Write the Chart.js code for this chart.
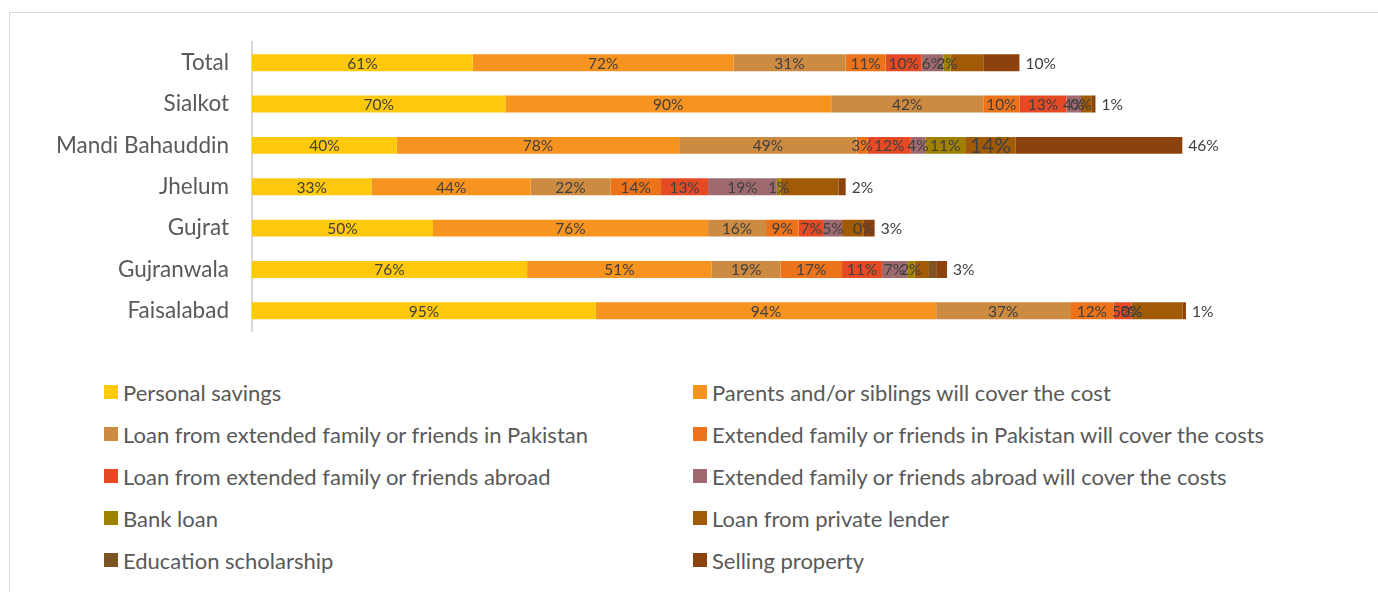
<!DOCTYPE html>
<html>
<head>
<meta charset="utf-8">
<script src="https://cdn.jsdelivr.net/npm/chart.js@4.4.1/dist/chart.umd.min.js"></script>
<style>
  html, body { margin: 0; padding: 0; background: #fff; }
  body { width: 1378px; height: 592px; position: relative; overflow: hidden; font-family: Lato, "Open Sans", sans-serif; }
  #frame { position: absolute; left: 9px; top: 12px; width: 1400px; height: 620px; border: 1.5px solid #D9D9D9; box-sizing: border-box; }
  #wrap { position: absolute; left: 0; top: 0; width: 1378px; height: 368px; }
  #legend { position: absolute; left: 0; top: 371px; width: 1378px; }
  .item { position: absolute; height: 42px; display: flex; align-items: center; font-size: 22px; color: #595959; white-space: nowrap; }
  .item i { display: inline-block; width: 14px; height: 14px; margin-right: 5px; }
</style>
</head>
<body>
<div id="frame"></div>
<div id="wrap"><canvas id="chart"></canvas></div>
<div id="legend"></div>
<script>
// Categories, top to bottom
const regions = ["Total", "Sialkot", "Mandi Bahauddin", "Jhelum", "Gujrat", "Gujranwala", "Faisalabad"];

// Series values (%), one entry per region
const personalSavings = [61, 70, 40, 33, 50, 76, 95];
const parentsSiblings = [72, 90, 78, 44, 76, 51, 94];
const loanFamilyPk = [31, 42, 49, 22, 16, 19, 37];
const familyPkCover = [11, 10, 3, 14, 9, 17, 12];
const loanFamilyAbroad = [10, 13, 12, 13, 7, 11, 5];
const familyAbroadCover = [6, 4, 4, 19, 5, 7, 0];
const bankLoan = [2, 0, 11, 1, 0, 2, 0];
const privateLender = [9, 3, 14, 16, 6, 4, 14];
const scholarship = [0, 0, 0, 0, 0, 2, 0];
const sellingProperty = [10, 1, 46, 2, 3, 3, 1];

// which data labels are visible (1 = shown, 2 = shown large, 0 = hidden)
const labelShow = [
  [1, 1, 1, 1, 1, 1, 1],
  [1, 1, 1, 1, 1, 1, 1],
  [1, 1, 1, 1, 1, 1, 1],
  [1, 1, 1, 1, 1, 1, 1],
  [1, 1, 1, 1, 1, 1, 1],
  [1, 1, 1, 1, 1, 1, 1],
  [1, 1, 1, 1, 0, 1, 1],
  [0, 0, 2, 0, 0, 0, 0],
  [0, 0, 0, 0, 1, 0, 0],
  [1, 1, 1, 1, 1, 1, 1]
];

const series = [
  { label: "Personal savings", data: personalSavings, color: "#FFC90B" },
  { label: "Parents and/or siblings will cover the cost", data: parentsSiblings, color: "#F7931F" },
  { label: "Loan from extended family or friends in Pakistan", data: loanFamilyPk, color: "#CD8B42" },
  { label: "Extended family or friends in Pakistan will cover the costs", data: familyPkCover, color: "#EC7319" },
  { label: "Loan from extended family or friends abroad", data: loanFamilyAbroad, color: "#E64A25" },
  { label: "Extended family or friends abroad will cover the costs", data: familyAbroadCover, color: "#9E6A6D" },
  { label: "Bank loan", data: bankLoan, color: "#9F8100" },
  { label: "Loan from private lender", data: privateLender, color: "#A15A05" },
  { label: "Education scholarship", data: scholarship, color: "#7D5426" },
  { label: "Selling property", data: sellingProperty, color: "#8C420C" }
];

// Data labels: centred in each segment, last series outside the bar end
const barLabels = {
  id: "barLabels",
  afterDatasetsDraw(chart) {
    const ctx = chart.ctx;
    const last = chart.data.datasets.length - 1;
    ctx.save();
    ctx.fillStyle = "#404040";
    ctx.textBaseline = "middle";
    chart.data.datasets.forEach((ds, i) => {
      const meta = chart.getDatasetMeta(i);
      meta.data.forEach((bar, j) => {
        const show = labelShow[i][j];
        if (!show) return;
        const text = Math.round(ds.data[j]) + "%";
        ctx.font = (show === 2 ? 21 : 15.5) + "px Lato, 'Open Sans', sans-serif";
        if (i === last) {
          ctx.textAlign = "left";
          ctx.fillText(text, bar.x + 6, bar.y + 1);
        } else {
          ctx.textAlign = "center";
          ctx.fillText(text, (bar.x + bar.base) / 2, bar.y + 1);
        }
      });
    });
    ctx.restore();
  }
};

const chart = new Chart(document.getElementById("chart"), {
  type: "bar",
  data: {
    labels: regions,
    datasets: series.map((s) => ({
      label: s.label,
      data: s.data,
      backgroundColor: s.color,
      borderWidth: 0,
      categoryPercentage: 1,
      barPercentage: 0.41
    }))
  },
  options: {
    indexAxis: "y",
    responsive: true,
    maintainAspectRatio: false,
    animation: false,
    layout: { padding: { top: 42, bottom: 12, right: 40, left: 0 } },
    scales: {
      x: { stacked: true, min: 0, max: 300, display: false },
      y: {
        stacked: true,
        grid: { display: false, drawTicks: false },
        border: { display: true, color: "#D9D9D9", width: 2 },
        ticks: { color: "#595959", font: { family: "Lato", size: 22.5 }, padding: 23 },
        afterFit: (scale) => { scale.width = 252; }
      }
    },
    plugins: {
      legend: { display: false },
      tooltip: { enabled: false }
    }
  },
  plugins: [barLabels]
});

// Two-column legend built from the chart datasets
const legendEl = document.getElementById("legend");
chart.options.plugins.legend.labels.generateLabels(chart).forEach((item, k) => {
  const div = document.createElement("div");
  div.className = "item";
  div.style.left = (k % 2 === 0 ? 104 : 693) + "px";
  div.style.top = Math.floor(k / 2) * 42 + "px";
  div.innerHTML = `<i style="background:${item.fillStyle}"></i>${item.text}`;
  legendEl.appendChild(div);
});
</script>
</body>
</html>
